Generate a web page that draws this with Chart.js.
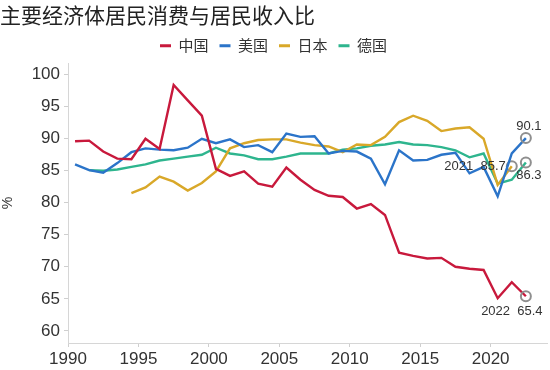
<!DOCTYPE html>
<html>
<head>
<meta charset="utf-8">
<script src="https://cdn.jsdelivr.net/npm/chart.js"></script>
<style>
  html, body { margin: 0; padding: 0; background: #fff; }
  #wrap { width: 550px; height: 370px; }
</style>
</head>
<body>
<div id="wrap"><canvas id="ratioChart" width="550" height="370"></canvas></div>
<script>
// 年份与各经济体数据（%）
const years = [1990, 1991, 1992, 1993, 1994, 1995, 1996, 1997, 1998, 1999,
               2000, 2001, 2002, 2003, 2004, 2005, 2006, 2007, 2008, 2009,
               2010, 2011, 2012, 2013, 2014, 2015, 2016, 2017, 2018, 2019,
               2020, 2021, 2022];
const china = [89.6, 89.7, 88.0, 86.9, 86.8, 90.0, 88.4, 98.4, 96.0, 93.6,
               85.3, 84.2, 84.9, 83.0, 82.5, 85.5, 83.6, 82.0, 81.1, 80.9,
               79.1, 79.8, 78.1, 72.2, 71.7, 71.3, 71.4, 70.0, 69.7, 69.5,
               65.1, 67.6, 65.4];
const usa = [86.0, 85.1, 84.7, 86.2, 87.9, 88.5, 88.3, 88.2, 88.6, 90.0,
             89.3, 89.9, 88.7, 89.0, 87.9, 90.8, 90.3, 90.4, 87.7, 88.1,
             88.0, 86.9, 82.9, 88.2, 86.6, 86.7, 87.5, 87.8, 84.6, 85.6,
             81.0, 87.7, 90.1];
const japan = [null, null, null, null, 81.5, 82.4, 84.1, 83.3, 81.9, 83.1,
               84.9, 88.5, 89.3, 89.8, 89.9, 89.9, 89.4, 89.0, 88.8, 87.9,
               89.1, 89.0, 90.3, 92.6, 93.6, 92.8, 91.2, 91.6, 91.8, 90.0,
               82.8, 85.7, null];
const germany = [null, 85.1, 85.0, 85.2, 85.6, 86.0, 86.6, 86.9, 87.2, 87.5,
                 88.6, 87.7, 87.4, 86.8, 86.8, 87.2, 87.7, 87.7, 87.7, 88.3,
                 88.5, 88.9, 89.1, 89.5, 89.1, 89.0, 88.7, 88.2, 87.1, 87.7,
                 83.0, 83.6, 86.3];
const seriesNames = ['中国', '美国', '日本', '德国'];
const xTicks = [1990, 1995, 2000, 2005, 2010, 2015, 2020];
const yTicks = [60, 65, 70, 75, 80, 85, 90, 95, 100];
// 末端标注: [系列序号, 文字]
const endLabels = [[0, '2022  65.4'], [1, '90.1'], [2, '2021  85.7'], [3, '86.3']];

const colors = ['#c8193c', '#2b74c9', '#d9a829', '#2eb58e'];
const labelPos = [
  {dx: -14, dy: 15, align: 'center'},
  {dx: 3, dy: -12, align: 'center'},
  {dx: -6, dy: 0, align: 'right'},
  {dx: 3, dy: 13, align: 'center'}
];

// 数据点放在年中
function toPoints(values) {
  return years.map((y, i) => ({x: y + 0.5, y: values[i]}));
}
function lastIndex(values) {
  for (let i = values.length - 1; i >= 0; i--) if (values[i] !== null) return i;
  return -1;
}

const allSeries = [china, usa, japan, germany];
const datasets = allSeries.map((vals, k) => {
  const last = lastIndex(vals);
  return {
    label: seriesNames[k],
    data: toPoints(vals),
    borderColor: colors[k],
    backgroundColor: colors[k],
    borderWidth: 2.4,
    tension: 0,
    spanGaps: false,
    pointRadius: ctx => ctx.dataIndex === last ? 5 : 0,
    pointHoverRadius: 0,
    pointBorderColor: '#8f8f8f',
    pointBackgroundColor: 'rgba(0,0,0,0)',
    pointBorderWidth: 2
  };
});

const endLabelPlugin = {
  id: 'endLabels',
  afterDatasetsDraw(chart) {
    const ctx = chart.ctx;
    ctx.save();
    ctx.font = '13px "Liberation Sans", Arial, sans-serif';
    ctx.fillStyle = '#333';
    ctx.textBaseline = 'middle';
    endLabels.forEach(([k, text]) => {
      const meta = chart.getDatasetMeta(k);
      const pt = meta.data[lastIndex(allSeries[k])];
      const p = labelPos[k];
      ctx.textAlign = p.align;
      ctx.fillText(text, pt.x + p.dx, pt.y + p.dy);
    });
    ctx.restore();
  }
};

new Chart(document.getElementById('ratioChart'), {
  type: 'line',
  data: { datasets: datasets },
  options: {
    responsive: false,
    animation: false,
    layout: { autoPadding: false, padding: { left: 0, right: 3, top: 0, bottom: 0 } },
    plugins: {
      title: {
        display: true,
        text: '主要经济体居民消费与居民收入比',
        align: 'start',
        color: '#222',
        font: { family: '"Noto Sans CJK SC", sans-serif', size: 21, weight: 'normal' },
        padding: { top: 2, bottom: 0 }
      },
      legend: {
        display: true,
        position: 'top',
        labels: {
          color: '#333',
          font: { family: '"Noto Sans CJK SC", sans-serif', size: 15 },
          boxWidth: 11,
          boxHeight: 3,
          padding: 11,
          generateLabels: chart => Chart.defaults.plugins.legend.labels.generateLabels(chart)
            .map(l => Object.assign(l, { lineWidth: 0 }))
        }
      },
      tooltip: { enabled: false }
    },
    scales: {
      x: {
        type: 'linear',
        min: 1990,
        max: 2024,
        afterBuildTicks: axis => { axis.ticks = xTicks.map(v => ({value: v})); },
        afterFit: axis => { axis.height = 27; },
        grid: { display: true, drawOnChartArea: false, drawTicks: true, tickLength: 4, color: '#cfcfcf' },
        border: { display: true, color: '#d6d6d6' },
        ticks: {
          color: '#333',
          padding: 2,
          maxRotation: 0,
          font: { family: '"Liberation Sans", Arial, sans-serif', size: 17 },
          callback: v => String(v)
        }
      },
      y: {
        min: 58.1,
        max: 101.8,
        afterBuildTicks: axis => { axis.ticks = yTicks.map(v => ({value: v})); },
        afterFit: axis => { axis.width = 68; },
        grid: { display: true, drawOnChartArea: false, drawTicks: true, tickLength: 4, color: '#cfcfcf' },
        border: { display: true, color: '#d6d6d6' },
        title: {
          display: true,
          text: '%',
          color: '#333',
          font: { family: '"Liberation Sans", Arial, sans-serif', size: 14 },
          padding: { top: 0, bottom: 0 }
        },
        ticks: {
          color: '#333',
          padding: 4,
          font: { family: '"Liberation Sans", Arial, sans-serif', size: 17 },
          callback: v => String(v)
        }
      }
    }
  },
  plugins: [endLabelPlugin]
});
</script>
</body>
</html>
